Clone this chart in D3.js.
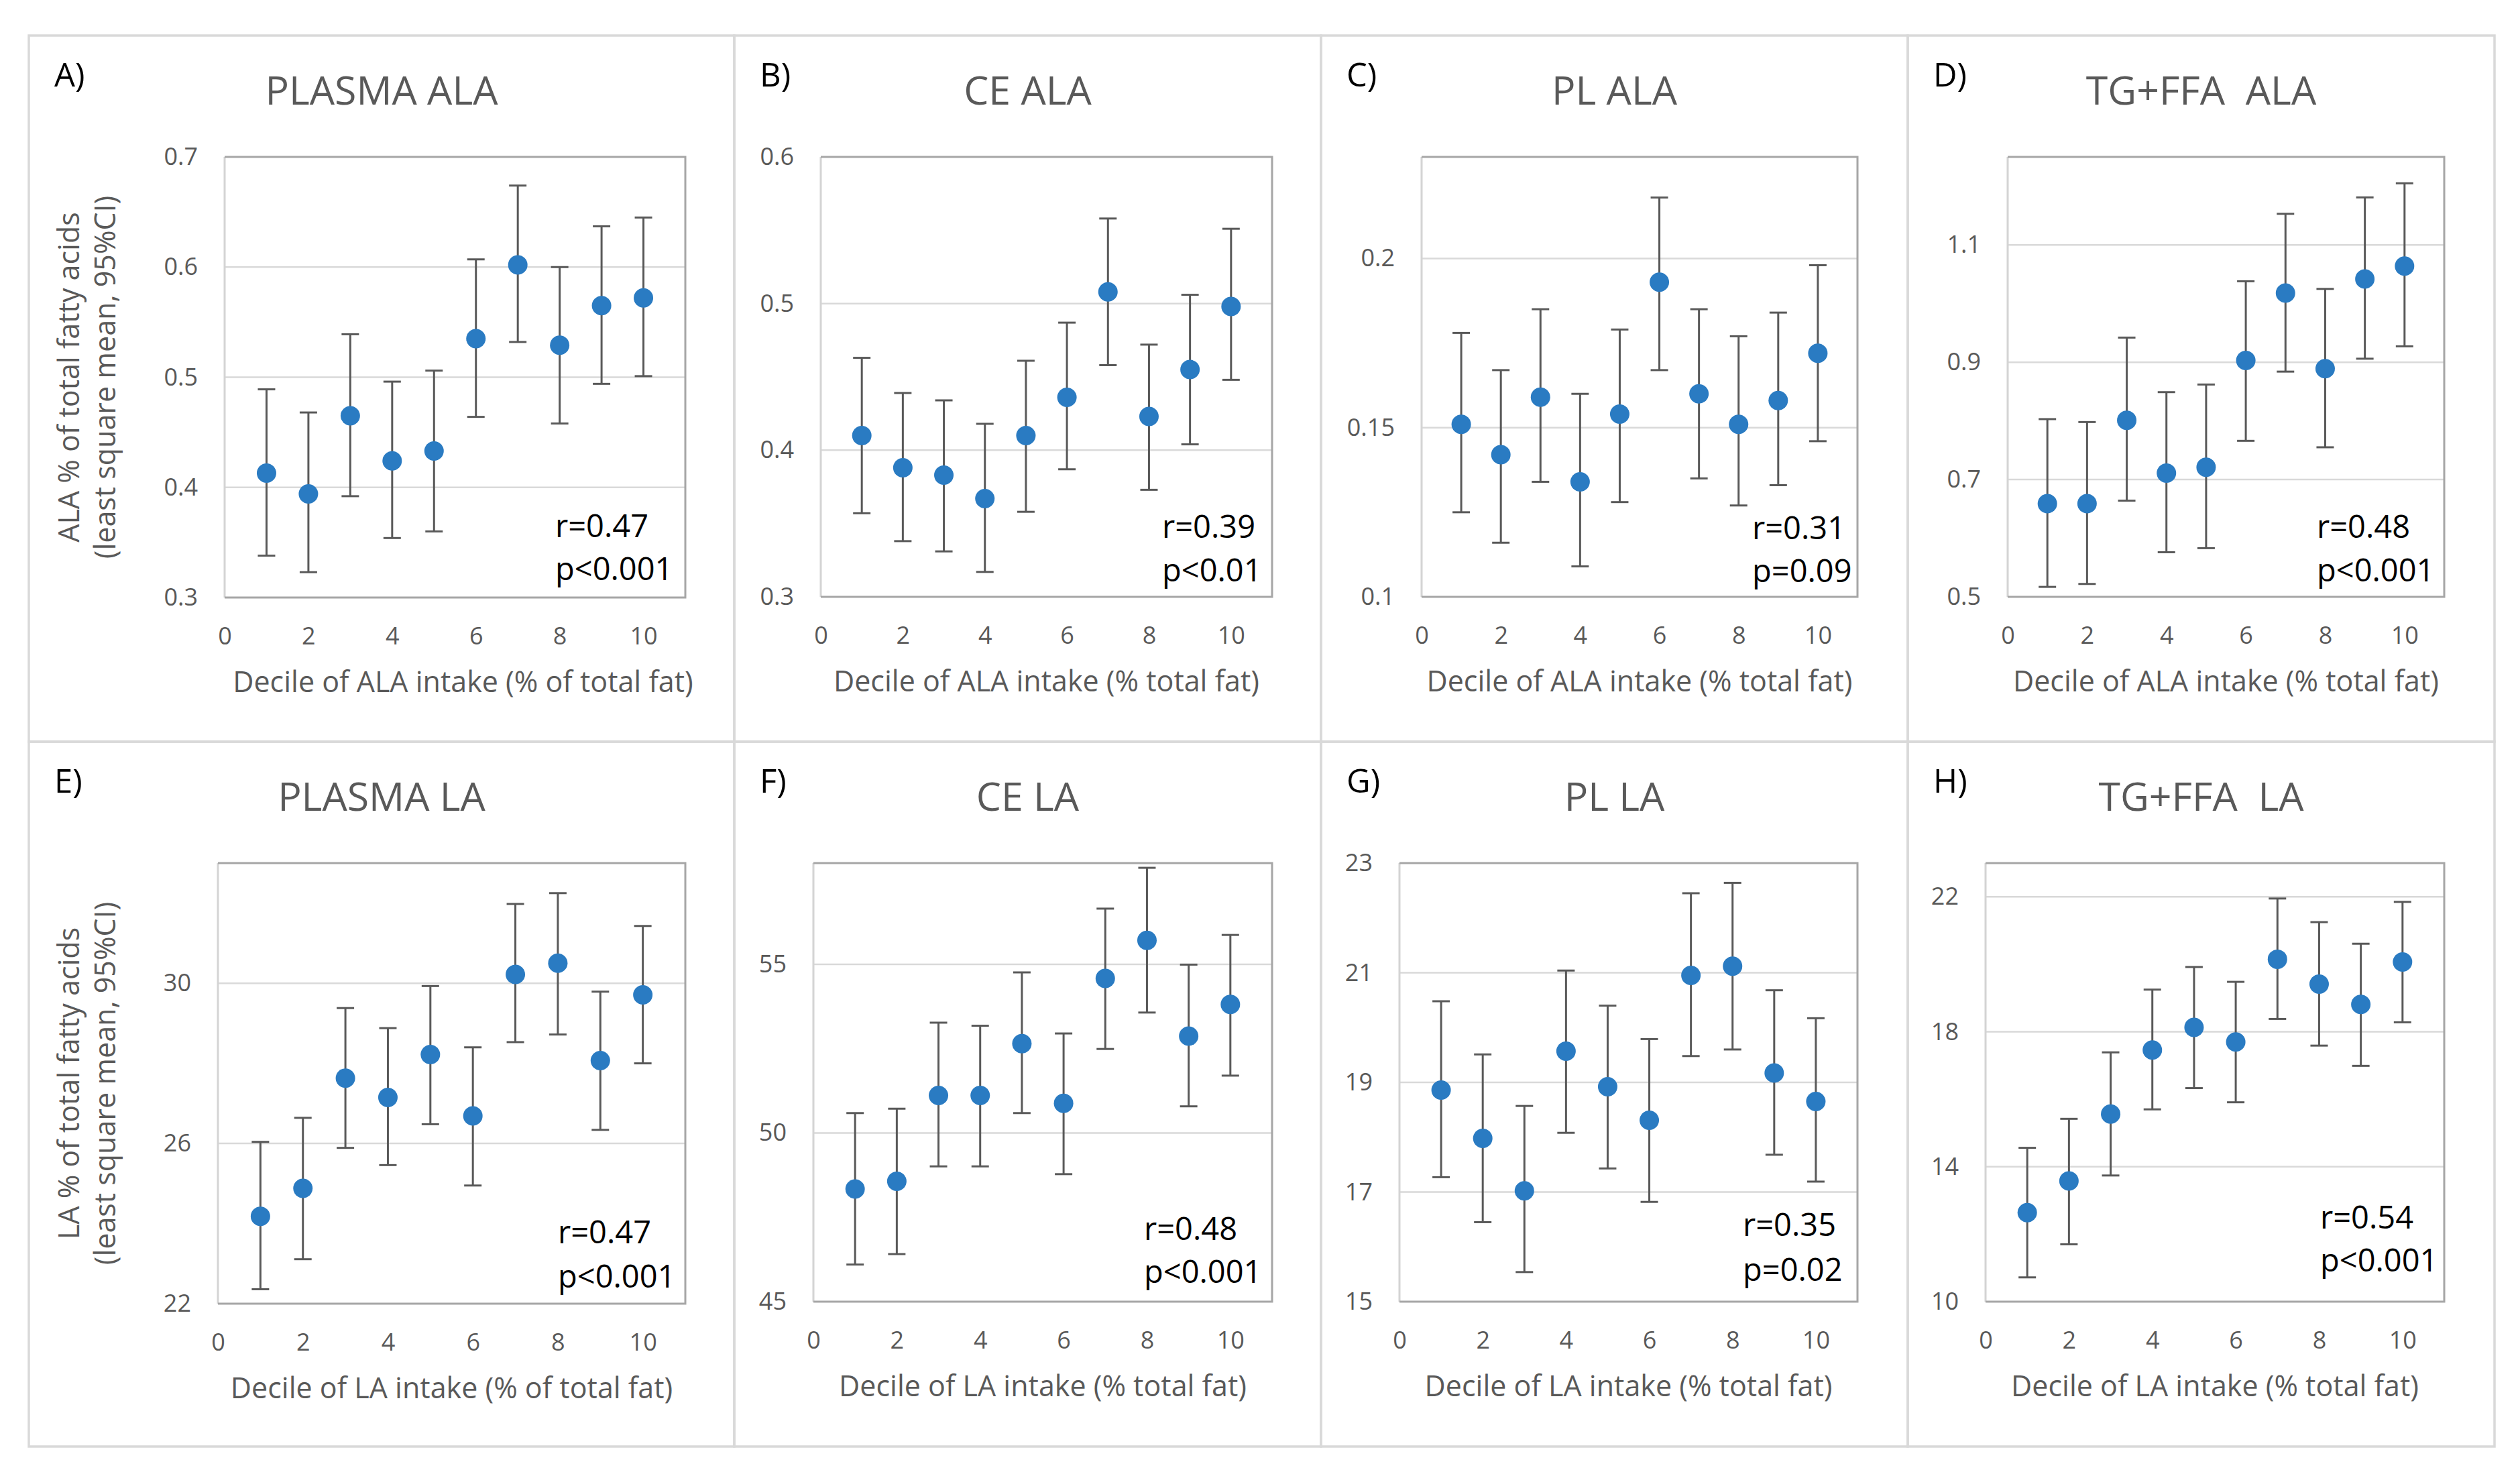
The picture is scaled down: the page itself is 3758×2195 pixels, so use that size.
<!DOCTYPE html>
<html>
<head>
<meta charset="utf-8">
<script src="https://cdn.jsdelivr.net/npm/d3@7"></script>
<style>
  html, body { margin: 0; padding: 0; background: #ffffff; }
  svg { display: block; }
  text { font-family: "Open Sans", "Noto Sans", sans-serif; }
</style>
</head>
<body>
<svg id="chart" width="3758" height="2195"></svg>
<script>
// ---------------- DATA ----------------
const deciles = [1, 2, 3, 4, 5, 6, 7, 8, 9, 10];
const xTickValues = [0, 2, 4, 6, 8, 10];

const panelLetters = ["A)", "B)", "C)", "D)", "E)", "F)", "G)", "H)"];
const panelTitles = ["PLASMA ALA", "CE ALA", "PL ALA", "TG+FFA  ALA", "PLASMA LA", "CE LA", "PL LA", "TG+FFA  LA"];
const xAxisTitles = [
  "Decile of ALA intake (% of total fat)", "Decile of ALA intake (% total fat)",
  "Decile of ALA intake (% total fat)", "Decile of ALA intake (% total fat)",
  "Decile of LA intake (% of total fat)", "Decile of LA intake (% total fat)",
  "Decile of LA intake (% total fat)", "Decile of LA intake (% total fat)"
];
const yAxisTitlesAla = ["ALA % of total fatty acids", "(least square mean, 95%CI)"];
const yAxisTitlesLa = ["LA % of total fatty acids", "(least square mean, 95%CI)"];
const rLabels = ["r=0.47", "r=0.39", "r=0.31", "r=0.48", "r=0.47", "r=0.48", "r=0.35", "r=0.54"];
const pLabels = ["p<0.001", "p<0.01", "p=0.09", "p<0.001", "p<0.001", "p<0.001", "p=0.02", "p<0.001"];

// y axis ranges and tick labels
const yDomainA = [0.3, 0.7];  const yTicksA = ["0.3", "0.4", "0.5", "0.6", "0.7"];
const yDomainB = [0.3, 0.6];  const yTicksB = ["0.3", "0.4", "0.5", "0.6"];
const yDomainC = [0.1, 0.23]; const yTicksC = ["0.1", "0.15", "0.2"];
const yDomainD = [0.5, 1.25]; const yTicksD = ["0.5", "0.7", "0.9", "1.1"];
const yDomainE = [22, 33];    const yTicksE = ["22", "26", "30"];
const yDomainF = [45, 58];    const yTicksF = ["45", "50", "55"];
const yDomainG = [15, 23];    const yTicksG = ["15", "17", "19", "21", "23"];
const yDomainH = [10, 23];    const yTicksH = ["10", "14", "18", "22"];

// A) Plasma ALA
const plasmaAlaMean = [0.413, 0.394, 0.465, 0.424, 0.433, 0.535, 0.602, 0.529, 0.565, 0.572];
const plasmaAlaLow  = [0.338, 0.323, 0.392, 0.354, 0.360, 0.464, 0.532, 0.458, 0.494, 0.501];
const plasmaAlaHigh = [0.489, 0.468, 0.539, 0.496, 0.506, 0.607, 0.674, 0.600, 0.637, 0.645];
// B) CE ALA
const ceAlaMean = [0.410, 0.388, 0.383, 0.367, 0.410, 0.436, 0.508, 0.423, 0.455, 0.498];
const ceAlaLow  = [0.357, 0.338, 0.331, 0.317, 0.358, 0.387, 0.458, 0.373, 0.404, 0.448];
const ceAlaHigh = [0.463, 0.439, 0.434, 0.418, 0.461, 0.487, 0.558, 0.472, 0.506, 0.551];
// C) PL ALA
const plAlaMean = [0.151, 0.142, 0.159, 0.134, 0.154, 0.193, 0.160, 0.151, 0.158, 0.172];
const plAlaLow  = [0.125, 0.116, 0.134, 0.109, 0.128, 0.167, 0.135, 0.127, 0.133, 0.146];
const plAlaHigh = [0.178, 0.167, 0.185, 0.160, 0.179, 0.218, 0.185, 0.177, 0.184, 0.198];
// D) TG+FFA ALA
const tgAlaMean = [0.659, 0.659, 0.801, 0.711, 0.721, 0.903, 1.018, 0.889, 1.042, 1.064];
const tgAlaLow  = [0.517, 0.522, 0.664, 0.576, 0.583, 0.766, 0.884, 0.755, 0.906, 0.927];
const tgAlaHigh = [0.803, 0.798, 0.942, 0.849, 0.862, 1.038, 1.153, 1.025, 1.181, 1.205];
// E) Plasma LA
const plasmaLaMean = [24.18, 24.88, 27.63, 27.15, 28.22, 26.69, 30.22, 30.50, 28.07, 29.71];
const plasmaLaLow  = [22.36, 23.11, 25.89, 25.46, 26.48, 24.95, 28.53, 28.72, 26.34, 28.00];
const plasmaLaHigh = [26.04, 26.64, 29.38, 28.88, 29.93, 28.40, 31.98, 32.25, 29.79, 31.43];
// F) CE LA
const ceLaMean = [48.34, 48.57, 51.11, 51.11, 52.65, 50.88, 54.58, 55.71, 52.87, 53.81];
const ceLaLow  = [46.10, 46.41, 49.01, 49.01, 50.59, 48.78, 52.49, 53.57, 50.79, 51.70];
const ceLaHigh = [50.59, 50.72, 53.27, 53.18, 54.76, 52.95, 56.65, 57.86, 54.99, 55.87];
// G) PL LA
const plLaMean = [18.86, 17.98, 17.02, 19.57, 18.92, 18.31, 20.95, 21.12, 19.17, 18.65];
const plLaLow  = [17.27, 16.45, 15.54, 18.08, 17.43, 16.82, 19.48, 19.60, 17.68, 17.19];
const plLaHigh = [20.48, 19.51, 18.57, 21.04, 20.40, 19.79, 22.45, 22.64, 20.68, 20.17];
// H) TG+FFA LA
const tgLaMean = [12.64, 13.58, 15.56, 17.46, 18.13, 17.70, 20.15, 19.41, 18.81, 20.07];
const tgLaLow  = [10.72, 11.70, 13.74, 15.70, 16.33, 15.91, 18.38, 17.59, 16.99, 18.28];
const tgLaHigh = [14.56, 15.42, 17.39, 19.25, 19.92, 19.48, 21.95, 21.25, 20.61, 21.85];

// ---------------- LAYOUT (pixels) ----------------
const colEdges = [43, 1095, 1970, 2845, 3720];
const rowEdges = [53, 1106, 2157];
const plotBoxes = [
  [335, 1022, 234, 891], [1224, 1897, 234, 890], [2120, 2770, 234, 890], [2994, 3645, 234, 890],
  [325, 1022, 1287, 1944], [1213, 1897, 1287, 1941], [2087, 2770, 1287, 1941], [2961, 3645, 1287, 1941]
];
const xTitleShift = [12, 0, 0, 0, 0, 0, 0, 0];
const statLeftFromRight = [-194, -164, -157, -190, -190, -191, -171, -185];
const rBaseFromBottom = [-90, -88, -86, -88, -90, -92, -98, -109];
const pBaseFromBottom = [-26, -23, -22, -23, -24, -28, -31, -45];

// ---------------- BUILD ----------------
const panels = [
  {mean: plasmaAlaMean, low: plasmaAlaLow, high: plasmaAlaHigh, dom: yDomainA, ticks: yTicksA, ytitle: yAxisTitlesAla},
  {mean: ceAlaMean, low: ceAlaLow, high: ceAlaHigh, dom: yDomainB, ticks: yTicksB},
  {mean: plAlaMean, low: plAlaLow, high: plAlaHigh, dom: yDomainC, ticks: yTicksC},
  {mean: tgAlaMean, low: tgAlaLow, high: tgAlaHigh, dom: yDomainD, ticks: yTicksD},
  {mean: plasmaLaMean, low: plasmaLaLow, high: plasmaLaHigh, dom: yDomainE, ticks: yTicksE, ytitle: yAxisTitlesLa},
  {mean: ceLaMean, low: ceLaLow, high: ceLaHigh, dom: yDomainF, ticks: yTicksF},
  {mean: plLaMean, low: plLaLow, high: plLaHigh, dom: yDomainG, ticks: yTicksG},
  {mean: tgLaMean, low: tgLaLow, high: tgLaHigh, dom: yDomainH, ticks: yTicksH}
];

const svg = d3.select("#chart");
svg.append("rect").attr("width", 3758).attr("height", 2195).attr("fill", "#ffffff");

const GRAY_TEXT = "#595959";
const DOT = "#2a7bc2";

panels.forEach((p, i) => {
  const col = i % 4, row = Math.floor(i / 4);
  const px0 = colEdges[col], px1 = colEdges[col + 1];
  const py0 = rowEdges[row], py1 = rowEdges[row + 1];
  const [x0, x1, y0, y1] = plotBoxes[i];

  const g = svg.append("g");

  // panel frame
  g.append("rect")
    .attr("x", px0).attr("y", py0)
    .attr("width", px1 - px0).attr("height", py1 - py0)
    .attr("fill", "none").attr("stroke", "#d9d9d9").attr("stroke-width", 3.5);

  const x = d3.scaleLinear().domain([0, 11]).range([x0, x1]);
  const y = d3.scaleLinear().domain(p.dom).range([y1, y0]);
  const tickNums = p.ticks.map(Number);

  // gridlines
  g.append("g").selectAll("line")
    .data(tickNums.filter(t => t > p.dom[0] + 1e-9 && t < p.dom[1] - 1e-9))
    .join("line")
    .attr("x1", x0).attr("x2", x1)
    .attr("y1", d => y(d)).attr("y2", d => y(d))
    .attr("stroke", "#d9d9d9").attr("stroke-width", 2.5);

  // plot border
  g.append("line").attr("x1", x0).attr("x2", x0).attr("y1", y0).attr("y2", y1)
    .attr("stroke", "#d4d4d4").attr("stroke-width", 3);
  g.append("path")
    .attr("d", `M${x0},${y0}H${x1}V${y1}H${x0}`)
    .attr("fill", "none").attr("stroke", "#a6a6a6").attr("stroke-width", 3);

  // y axis (labels only)
  const yAxis = d3.axisLeft(y).tickValues(tickNums).tickSize(0).tickPadding(40)
    .tickFormat((d, k) => p.ticks[k]);
  const yg = g.append("g").attr("transform", `translate(${x0},0)`).call(yAxis);
  yg.select(".domain").remove();
  yg.selectAll("text").attr("fill", GRAY_TEXT).attr("font-size", 36)
    .attr("font-family", '"Open Sans", sans-serif');

  // x axis (labels only)
  const xAxis = d3.axisBottom(x).tickValues(xTickValues).tickSize(0).tickPadding(44)
    .tickFormat(d3.format("d"));
  const xg = g.append("g").attr("transform", `translate(0,${y1})`).call(xAxis);
  xg.select(".domain").remove();
  xg.selectAll("text").attr("fill", GRAY_TEXT).attr("font-size", 36)
    .attr("font-family", '"Open Sans", sans-serif');

  // error bars
  const cap = 13;
  const eb = g.append("g").attr("stroke", "#595959").attr("stroke-width", 3).attr("fill", "none");
  eb.selectAll("line.v").data(deciles).join("line").attr("class", "v")
    .attr("x1", d => x(d)).attr("x2", d => x(d))
    .attr("y1", (d, k) => y(p.low[k])).attr("y2", (d, k) => y(p.high[k]));
  eb.selectAll("line.t").data(deciles).join("line").attr("class", "t")
    .attr("x1", d => x(d) - cap).attr("x2", d => x(d) + cap)
    .attr("y1", (d, k) => y(p.high[k])).attr("y2", (d, k) => y(p.high[k]));
  eb.selectAll("line.b").data(deciles).join("line").attr("class", "b")
    .attr("x1", d => x(d) - cap).attr("x2", d => x(d) + cap)
    .attr("y1", (d, k) => y(p.low[k])).attr("y2", (d, k) => y(p.low[k]));

  // markers
  g.append("g").selectAll("circle").data(deciles).join("circle")
    .attr("cx", d => x(d)).attr("cy", (d, k) => y(p.mean[k]))
    .attr("r", 14.5).attr("fill", DOT);

  // panel letter
  g.append("text").attr("x", px0 + 38).attr("y", py0 + 76)
    .attr("font-size", 49).attr("fill", "#000000").text(panelLetters[i]);

  // title
  g.append("text").attr("x", (px0 + px1) / 2).attr("y", py0 + 103)
    .attr("text-anchor", "middle").attr("font-size", 59).attr("fill", GRAY_TEXT)
    .style("white-space", "pre").text(panelTitles[i]);

  // x axis title
  g.append("text").attr("x", (x0 + x1) / 2 + xTitleShift[i]).attr("y", y1 + 141)
    .attr("text-anchor", "middle").attr("font-size", 43).attr("fill", GRAY_TEXT)
    .text(xAxisTitles[i]);

  // y axis title
  if (p.ytitle) {
    const cy = (y0 + y1) / 2;
    p.ytitle.forEach((line, k) => {
      const bx = 118 + k * 54;
      g.append("text")
        .attr("transform", `translate(${bx},${cy}) rotate(-90)`)
        .attr("text-anchor", "middle").attr("font-size", 43).attr("fill", GRAY_TEXT)
        .text(line);
    });
  }

  // stats
  const sx = x1 + statLeftFromRight[i];
  g.append("text").attr("x", sx).attr("y", y1 + rBaseFromBottom[i])
    .attr("font-size", 47).attr("fill", "#000000").text(rLabels[i]);
  g.append("text").attr("x", sx).attr("y", y1 + pBaseFromBottom[i])
    .attr("font-size", 47).attr("fill", "#000000").text(pLabels[i]);
});
</script>
</body>
</html>
